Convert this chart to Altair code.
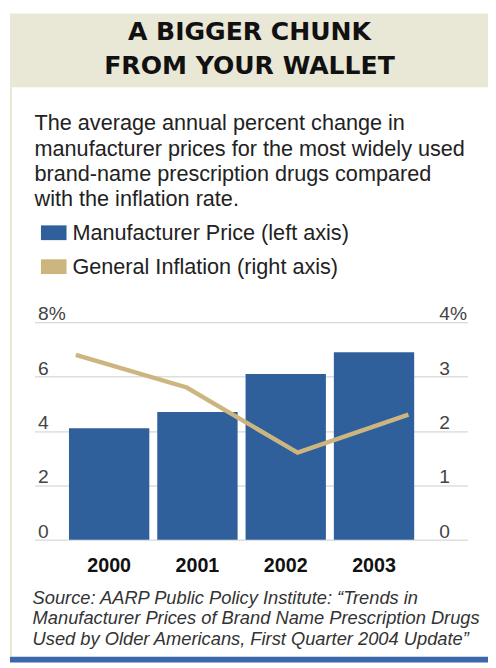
import altair as alt
import pandas as pd

# ---- data ----
years = ["2000", "2001", "2002", "2003"]
manufacturer_price = [4.1, 4.7, 6.1, 6.9]   # left axis, %
general_inflation = [3.4, 2.8, 1.6, 2.3]    # right axis, %
series_names = ["Manufacturer Price (left axis)", "General Inflation (right axis)"]
series_colors = ["#2f609c", "#ccb57e"]
left_ticks = [0, 2, 4, 6, 8]
right_ticks = [0, 1, 2, 3, 4]

title_lines = ["A BIGGER CHUNK", "FROM YOUR WALLET"]
subtitle_lines = [
    "The average annual percent change in",
    "manufacturer prices for the most widely used",
    "brand-name prescription drugs compared",
    "with the inflation rate.",
]
source_lines = [
    "Source: AARP Public Policy Institute: \u201cTrends in",
    "Manufacturer Prices of Brand Name Prescription Drugs",
    "Used by Older Americans, First Quarter 2004 Update\u201d",
]

bars_df = pd.DataFrame({"year": years, "value": manufacturer_price, "series": series_names[0]})
line_df = pd.DataFrame({"year": years, "value": general_inflation, "series": series_names[1]})
one = pd.DataFrame({"k": [0]})

W, H = 440, 221
FONT = "Liberation Sans"

color = alt.Color(
    "series:N",
    scale=alt.Scale(domain=series_names, range=series_colors),
    legend=alt.Legend(
        orient="none", legendX=6.5, legendY=-104, title=None, direction="vertical",
        symbolType="M-1,-0.577L1,-0.577L1,0.577L-1,0.577Z", symbolSize=676,
        symbolStrokeWidth=0, symbolOpacity=1, labelFontSize=22, labelFont=FONT,
        labelColor="#222", labelOffset=6, rowPadding=10.5, padding=0, labelLimit=400,
    ),
)

bars = alt.Chart(bars_df).mark_bar().encode(
    x=alt.X("year:N", sort=years, title=None,
            scale=alt.Scale(paddingInner=0.09, paddingOuter=0.496, align=0.393),
            axis=alt.Axis(labelFontSize=20, labelFontWeight="bold", labelFont=FONT,
                          labelColor="#111", domain=False, ticks=False, labelPadding=16,
                          labelAngle=0, grid=False)),
    y=alt.Y("value:Q", title=None,
            scale=alt.Scale(domain=[0, 8], nice=False),
            axis=alt.Axis(orient="left", values=left_ticks, grid=True, gridColor="#cccccc",
                          gridWidth=1, domain=False, ticks=False, labelAlign="left",
                          labelPadding=-3, labelBaseline="alphabetic", labelOffset=-2.5,
                          labelFontSize=19.5, labelFont=FONT, labelColor="#444",
                          labelExpr="datum.value == 8 ? '8%' : datum.label")),
    color=color,
)

line = alt.Chart(line_df).mark_line(strokeWidth=4.5).encode(
    x=alt.X("year:O", sort=years, axis=None,
            scale=alt.Scale(type="point", padding=0.452, align=0.412)),
    y=alt.Y("value:Q", title=None,
            scale=alt.Scale(domain=[0, 4], nice=False),
            axis=alt.Axis(orient="right", values=right_ticks, grid=False, domain=False,
                          ticks=False, labelAlign="left", labelPadding=-29,
                          labelBaseline="alphabetic", labelOffset=-2.5,
                          labelFontSize=19.5, labelFont=FONT, labelColor="#444",
                          labelExpr="datum.value == 4 ? '4%' : datum.label")),
    color=color,
)

header = alt.Chart(one).mark_rect(color="#e9e7d5").encode(
    x=alt.value(-25), x2=alt.value(461), y=alt.value(-314), y2=alt.value(-239))
left_border = alt.Chart(one).mark_rect(color="#e9e7d5").encode(
    x=alt.value(-25), x2=alt.value(-23), y=alt.value(-239), y2=alt.value(340))
bottom_bar = alt.Chart(one).mark_rect(color="#3b68ab").encode(
    x=alt.value(-25), x2=alt.value(461), y=alt.value(340), y2=alt.value(346))

title = alt.Chart(one).mark_text(
    font="DejaVu Sans", fontWeight="bold", fontSize=25.5, color="#111",
    align="center", baseline="alphabetic", lineHeight=35,
).encode(x=alt.value(218.5), y=alt.value(-287), text=alt.value(title_lines))

subtitle = alt.Chart(one).mark_text(
    font=FONT, fontSize=22, color="#222", align="left", baseline="alphabetic",
    lineHeight=25.5,
).encode(x=alt.value(0), y=alt.value(-195), text=alt.value(subtitle_lines))

source = alt.Chart(one).mark_text(
    font=FONT, fontStyle="italic", fontSize=18.6, color="#333", align="left",
    baseline="alphabetic", lineHeight=21,
).encode(x=alt.value(-2), y=alt.value(286), text=alt.value(source_lines))

chart = alt.layer(
    header, left_border, bottom_bar, title, subtitle, source, bars, line
).resolve_scale(
    x="independent", y="independent"
).properties(
    width=W, height=H,
    autosize=alt.AutoSizeParams(type="none"),
    padding={"left": 27, "top": 314, "right": 21, "bottom": 125},
    background="white",
).configure_view(strokeWidth=0)

chart.save("out.html", embed_options={"renderer": "svg", "actions": False})
